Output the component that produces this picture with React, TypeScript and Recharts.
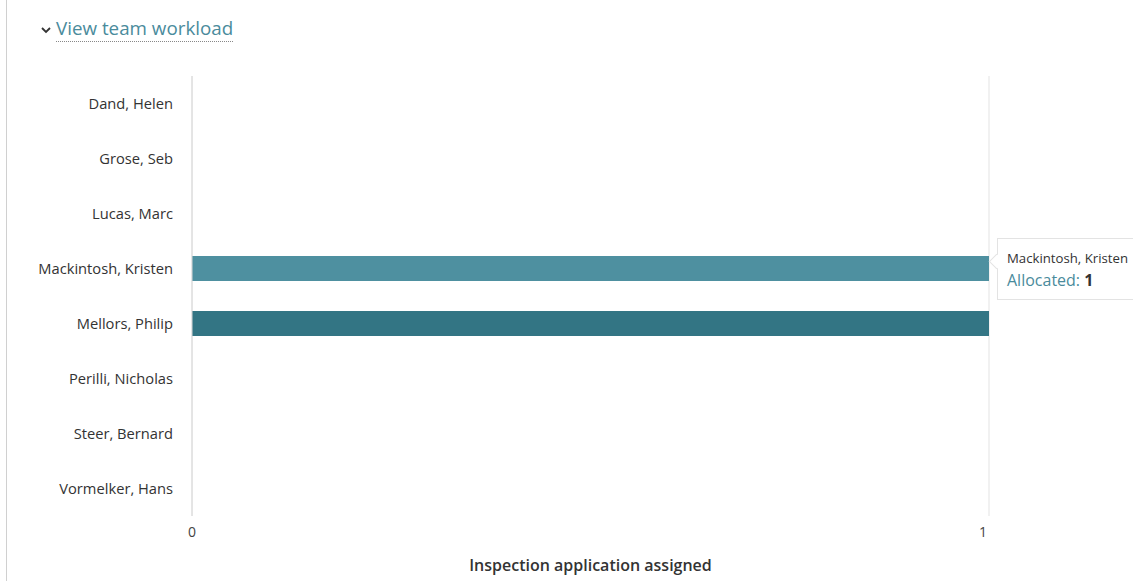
import React from "react"
import { BarChart, Bar, XAxis, YAxis, CartesianGrid, Tooltip, Cell } from "recharts"

const NAMES = [
  "Dand, Helen",
  "Grose, Seb",
  "Lucas, Marc",
  "Mackintosh, Kristen",
  "Mellors, Philip",
  "Perilli, Nicholas",
  "Steer, Bernard",
  "Vormelker, Hans",
]
const ALLOCATED = [0, 0, 0, 1, 1, 0, 0, 0]
const X_TICKS = [0, 1]
const HOVER_INDEX = 3

const FONT = "'Open Sans', 'Noto Sans', Arial, sans-serif"
const BAR = "#337584"
const BAR_HOVER = "#4e90a0"
const TEAL = "#4a8b9c"

const data = NAMES.map((name, i) => ({ name, allocated: ALLOCATED[i] }))

function XTick(props: any) {
  const { x, y, payload } = props
  const last = payload.value === X_TICKS[X_TICKS.length - 1]
  return (
    <text x={x + (last ? -6 : 0)} y={y} dy={13} textAnchor="middle" fontSize={14} fill="#444" fontFamily={FONT}>
      {payload.value}
    </text>
  )
}

function TipContent(props: any) {
  const { active, payload } = props
  if (!active || !payload || !payload.length) return null
  const p = payload[0].payload
  return (
    <div style={{ position: "relative", fontFamily: FONT }}>
      <div
        style={{
          position: "absolute",
          left: -6,
          top: 18,
          width: 10,
          height: 10,
          background: "#fff",
          borderLeft: "1px solid #e3e3e3",
          borderBottom: "1px solid #e3e3e3",
          transform: "rotate(45deg)",
        }}
      />
      <div
        style={{
          background: "#fff",
          border: "1px solid #e3e3e3",
          borderRight: "none",
          padding: "12px 20px 9px 9px",
          width: 160,
          boxSizing: "border-box",
          height: 62,
        }}
      >
        <div style={{ fontSize: 13.2, color: "#333", lineHeight: "15px", whiteSpace: "nowrap" }}>{p.name}</div>
        <div style={{ fontSize: 16, lineHeight: "20px", marginTop: 4, whiteSpace: "nowrap" }}>
          <span style={{ color: TEAL }}>Allocated: </span>
          <span style={{ color: "#333", fontWeight: 700 }}>{p.allocated}</span>
        </div>
      </div>
    </div>
  )
}

export default function App() {
  return (
    <div style={{ position: "absolute", left: 0, top: 0, width: 1133, height: 581, background: "#fff", overflow: "hidden", fontFamily: FONT }}>
      <div style={{ position: "absolute", left: 6, top: 0, width: 1, height: 581, background: "#d0d0d0" }} />
      <div style={{ position: "absolute", left: 40, top: 16, display: "flex", alignItems: "center" }}>
        <svg width={12} height={10} style={{ marginRight: 4, marginTop: 2 }}>
          <polyline points="2,3 6,7 10,3" fill="none" stroke="#333" strokeWidth={1.8} />
        </svg>
        <span style={{ fontSize: 18.8, color: TEAL, borderBottom: "1px dotted #888", lineHeight: "24px", paddingBottom: 1 }}>
          View team workload
        </span>
      </div>
      <div style={{ position: "absolute", left: 0, top: 0 }}>
        <BarChart
          width={1133}
          height={581}
          data={data}
          layout="vertical"
          margin={{ top: 76, right: 144, left: 0, bottom: 10 }}
          barCategoryGap={15}
        >
          <CartesianGrid horizontal={false} vertical stroke="#e3e3e3" />
          <XAxis
            type="number"
            domain={[0, 1]}
            ticks={X_TICKS}
            axisLine={false}
            tickLine={false}
            tick={<XTick />}
            height={55}
            label={{ value: "Inspection application assigned", position: "insideBottom", offset: 0, fill: "#333", fontSize: 16, fontWeight: 600, fontFamily: FONT }}
          />
          <YAxis
            type="category"
            dataKey="name"
            width={192}
            axisLine={{ stroke: "#d8d8d8" }}
            tickLine={false}
            tickSize={0}
            tickMargin={19}
            tick={{ fontSize: 14.7, fill: "#333", fontFamily: FONT }}
          />
          <Tooltip
            active
            defaultIndex={HOVER_INDEX}
            cursor={false}
            content={<TipContent />}
            position={{ x: 997, y: 238 }}
            allowEscapeViewBox={{ x: true, y: true }}
            isAnimationActive={false}
            wrapperStyle={{ outline: "none" }}
          />
          <Bar dataKey="allocated" isAnimationActive={false} activeBar={false}>
            {data.map((d, i) => (
              <Cell key={d.name} fill={i === HOVER_INDEX ? BAR_HOVER : BAR} />
            ))}
          </Bar>
        </BarChart>
      </div>
    </div>
  )
}
